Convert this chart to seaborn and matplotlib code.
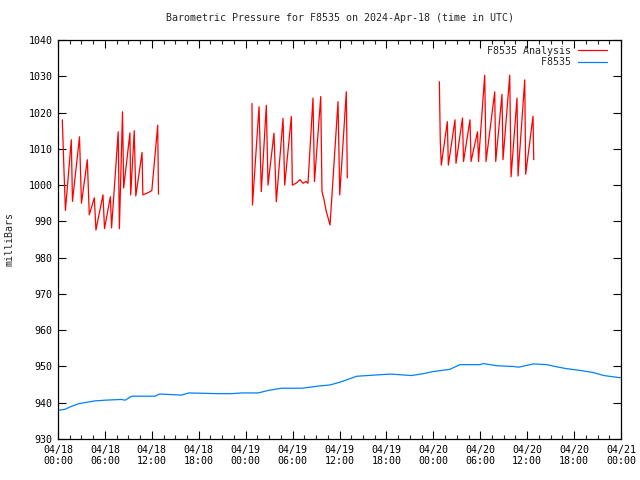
import matplotlib
matplotlib.use("Agg")
import matplotlib.pyplot as plt
from matplotlib.ticker import FixedLocator, MultipleLocator, FixedFormatter
from matplotlib.lines import Line2D
import seaborn as sns
import pandas as pd

# ---- data (hours since 2024-04-18 00:00 UTC) ----
seg1_t = [0.55, 0.75, 0.95, 1.70, 1.85, 2.75, 3.00, 3.75, 4.00, 4.65, 4.85, 5.75, 5.95,
          6.70, 6.85, 7.70, 7.85, 8.25, 8.40, 9.20, 9.30, 9.75, 9.95, 10.75, 10.85,
          11.60, 12.00, 12.75, 12.85]
seg1_v = [1018, 1005, 993, 1012.5, 995.5, 1013.3, 995, 1007, 991.8, 996.5, 987.6, 997.3, 988,
          996.8, 988.2, 1014.7, 988, 1020.2, 999.2, 1014.4, 997.3, 1015, 997, 1009, 997.3,
          998, 998.5, 1016.5, 997.5]

seg2_t = [24.81, 24.87, 25.71, 26.00, 26.64, 26.86, 27.62, 27.92, 28.78, 28.99, 29.84, 29.97,
          30.44, 30.95, 31.33, 31.72, 31.97, 32.61, 32.80, 33.60, 33.76, 34.02, 34.28, 34.60,
          34.79, 35.81, 36.03, 36.87, 37.00]
seg2_v = [1022.5, 994.5, 1021.6, 998.2, 1022, 1000, 1014.3, 995.4, 1018.4, 1000, 1018.9, 1000,
          1000.5, 1001.5, 1000.5, 1001, 1000.5, 1024, 1001, 1024.4, 998.2, 996, 993, 990.5,
          989, 1023, 997.3, 1025.7, 1002]

seg3_t = [48.77, 48.89, 49.02, 49.79, 49.92, 50.77, 50.90, 51.73, 51.86, 52.69, 52.82, 53.65,
          53.78, 54.57, 54.74, 55.85, 55.98, 56.78, 56.91, 57.77, 57.94, 58.70, 58.83, 59.69,
          59.81, 60.75, 60.84]
seg3_v = [1028.5, 1012, 1005.5, 1017.5, 1005.5, 1018, 1006, 1018.5, 1006.5, 1018, 1006.5, 1014.7,
          1006.5, 1030.3, 1006.5, 1025.7, 1006.5, 1025, 1007, 1030.3, 1002.3, 1024, 1002.5, 1029,
          1003, 1019, 1007]

obs_t = [0.0, 0.9, 1.5, 2.6, 3.9, 4.7, 6.0, 8.1, 8.6, 9.4, 12.4, 13.0, 15.8, 16.7, 20.5, 22.2,
         23.5, 25.6, 26.9, 28.6, 31.2, 33.3, 34.8, 36.1, 37.3, 38.2, 40.3, 42.5, 45.2, 46.7,
         48.0, 50.1, 51.4, 54.0, 54.4, 56.1, 58.2, 58.9, 60.8, 62.5, 63.8, 65.0, 66.8, 68.5,
         69.8, 71.5, 72.0]
obs_v = [937.9, 938.2, 938.8, 939.7, 940.2, 940.5, 940.7, 940.9, 940.7, 941.8, 941.8, 942.4,
         942.1, 942.7, 942.5, 942.5, 942.7, 942.7, 943.4, 944.0, 944.0, 944.6, 944.9, 945.7,
         946.6, 947.3, 947.6, 947.9, 947.5, 948.0, 948.6, 949.2, 950.5, 950.5, 950.8, 950.2,
         950.0, 949.8, 950.7, 950.5, 949.9, 949.4, 948.9, 948.3, 947.5, 947.0, 946.9]

x_ticks = [0, 6, 12, 18, 24, 30, 36, 42, 48, 54, 60, 66, 72]
x_labels = ["04/18\n00:00", "04/18\n06:00", "04/18\n12:00", "04/18\n18:00",
            "04/19\n00:00", "04/19\n06:00", "04/19\n12:00", "04/19\n18:00",
            "04/20\n00:00", "04/20\n06:00", "04/20\n12:00", "04/20\n18:00",
            "04/21\n00:00"]
y_ticks = [930, 940, 950, 960, 970, 980, 990, 1000, 1010, 1020, 1030, 1040]

title = "Barometric Pressure for F8535 on 2024-Apr-18 (time in UTC)"
red_label = "F8535 Analysis"
blue_label = "F8535"

# ---- frames ----
red_df = pd.concat([
    pd.DataFrame({"time": seg1_t, "mb": seg1_v, "seg": 1}),
    pd.DataFrame({"time": seg2_t, "mb": seg2_v, "seg": 2}),
    pd.DataFrame({"time": seg3_t, "mb": seg3_v, "seg": 3}),
], ignore_index=True)
blue_df = pd.DataFrame({"time": obs_t, "mb": obs_v})

sns.set_style("ticks")
plt.rcParams["font.family"] = ["DejaVu Sans Mono", "DejaVu Sans"]
plt.rcParams["font.size"] = 7.2

RED = "#ff0000"
BLUE = "#0080ff"

fig = plt.figure(figsize=(6.4, 4.8), dpi=100)
ax = fig.add_axes([58 / 640, 1 - 439 / 480, (621 - 58) / 640, (439 - 40) / 480])

sns.lineplot(data=red_df, x="time", y="mb", units="seg", estimator=None,
             color=RED, lw=0.9, ax=ax, legend=False)
sns.lineplot(data=blue_df, x="time", y="mb", estimator=None,
             color=BLUE, lw=0.9, ax=ax, legend=False)

ax.set_xlim(0, 72)
ax.set_ylim(930, 1040)
ax.xaxis.set_major_locator(FixedLocator(x_ticks))
ax.xaxis.set_major_formatter(FixedFormatter(x_labels))
ax.xaxis.set_minor_locator(MultipleLocator(1.5))
ax.yaxis.set_major_locator(FixedLocator(y_ticks))
ax.set_xlabel("")
ax.set_ylabel("milliBars", fontsize=7.2, labelpad=10)
ax.tick_params(axis="both", which="major", direction="in", length=6, width=0.8,
               top=True, right=True, labelsize=7.2, colors="black", pad=4)
ax.tick_params(axis="both", which="minor", direction="in", length=3, width=0.8,
               top=True, right=True)
ax.tick_params(axis="y", which="minor", left=False, right=False)
for s in ax.spines.values():
    s.set_visible(True)
    s.set_color("black")
    s.set_linewidth(0.9)

fig.suptitle(title, x=(58 + 621) / 2 / 640, y=1 - 13 / 480, va="top", fontsize=7.2)

handles = [Line2D([], [], color=RED, lw=0.9), Line2D([], [], color=BLUE, lw=0.9)]
width = max(len(red_label), len(blue_label))
labels = [red_label.rjust(width), blue_label.rjust(width)]
ax.legend(handles, labels, loc="upper right", frameon=False, markerfirst=False,
          handlelength=2.9, handletextpad=0.7, borderaxespad=0.2, labelspacing=0.15,
          fontsize=7.2, bbox_to_anchor=(0.985, 1.0))

fig.savefig("out.png", dpi=100)
